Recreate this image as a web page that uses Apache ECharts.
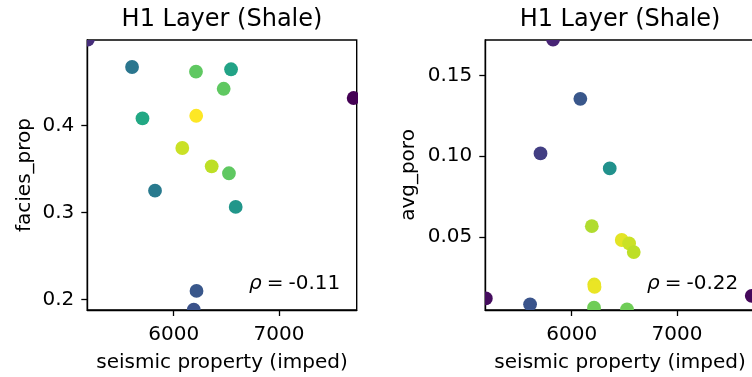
<!DOCTYPE html>
<html>
<head>
<meta charset="utf-8">
<script src="https://cdn.jsdelivr.net/npm/echarts@6/dist/echarts.min.js"></script>
<style>
  html, body { margin: 0; padding: 0; background: #fff; }
  #chart { width: 752px; height: 377px; }
</style>
</head>
<body>
<div id="chart"></div>
<script>
// Shared seismic impedance for every well in the H1 (shale) layer
const seismicImped = [5185, 5605, 5704, 5823, 6082, 6191, 6212, 6214, 6217, 6361, 6475, 6525, 6545, 6589, 7709];

// Facies proportion per well and its colour value (0..1 on viridis)
const faciesProp = [0.4985, 0.467, 0.408, 0.325, 0.374, 0.1885, 0.4616, 0.411, 0.2099, 0.353, 0.442, 0.345, 0.4644, 0.3064, 0.4314];
const faciesColour = [0.13, 0.39, 0.6, 0.41, 0.92, 0.25, 0.75, 1.0, 0.27, 0.9, 0.75, 0.75, 0.58, 0.52, 0.0];

// Average porosity per well and its colour value
const avgPoro = [0.0118, 0.0081, 0.1017, 0.1722, 0.1355, 0.0566, 0.006, 0.0204, 0.0189, 0.0924, 0.048, 0.005, 0.0459, 0.0405, 0.0134];
const poroColour = [0.03, 0.26, 0.18, 0.1, 0.27, 0.88, 0.78, 0.96, 0.97, 0.5, 0.96, 0.78, 0.92, 0.9, 0.02];

// Tick labels and titles
const xTicks = [6000, 7000];
const faciesTicks = [0.2, 0.3, 0.4];
const poroTicks = [0.05, 0.10, 0.15];
const panelTitle = 'H1 Layer (Shale)';
const xName = 'seismic property (imped)';
const yNames = ['facies_prop', 'avg_poro'];
const rhoValues = ['-0.11', '-0.22'];

const viridis = ['#440154','#482475','#414487','#355f8d','#2a788e','#21918c','#22a884','#44bf70','#7ad151','#bddf26','#fde725'];

const FONT = 'DejaVu Sans';
const grids = [
  { left: 87.3, top: 40, width: 269.4, height: 270 },
  { left: 485.3, top: 40, width: 269.5, height: 270 }
];
const xRange = [5180, 7738];
const yRanges = [[0.188, 0.498], [0.0046, 0.172]];
const yTickSets = [faciesTicks, poroTicks];
const yDigits = [1, 2];
const yNameGaps = [53, 67];
const MARKER_R = 6.9;

const chart = echarts.init(document.getElementById('chart'), null, { renderer: 'canvas' });

const axisText = { color: '#000', fontFamily: FONT, fontSize: 20 };

// Filled dots, clipped to the plotting area like the axes box
function dot(params, api) {
  const p = api.coord([api.value(0), api.value(1)]);
  return {
    type: 'circle',
    shape: { cx: p[0], cy: p[1], r: MARKER_R },
    style: { fill: api.visual('color') }
  };
}

const option = {
  animation: false,
  backgroundColor: '#fff',
  grid: grids.map(g => Object.assign({
    show: true, borderColor: '#000', borderWidth: 1.4, backgroundColor: 'transparent',
    containLabel: false, outerBoundsMode: 'none'
  }, g)),
  xAxis: grids.map((g, i) => ({
    type: 'value', gridIndex: i, min: xRange[0], max: xRange[1],
    name: xName, nameLocation: 'middle', nameGap: 43,
    nameTextStyle: axisText,
    axisLine: { show: true, lineStyle: { color: '#000', width: 1.4 } },
    axisTick: { show: true, length: 6, lineStyle: { color: '#000', width: 1.3 }, customValues: xTicks },
    axisLabel: Object.assign({ margin: 15, customValues: xTicks, formatter: v => String(Math.round(v)) }, axisText),
    splitLine: { show: false }
  })),
  yAxis: grids.map((g, i) => ({
    type: 'value', gridIndex: i, min: yRanges[i][0], max: yRanges[i][1],
    name: yNames[i], nameLocation: 'middle', nameGap: yNameGaps[i], nameRotate: 90,
    nameTextStyle: axisText,
    axisLine: { show: true, lineStyle: { color: '#000', width: 1.4 } },
    axisTick: { show: true, length: 6, lineStyle: { color: '#000', width: 1.3 }, customValues: yTickSets[i] },
    axisLabel: Object.assign({ margin: 13, customValues: yTickSets[i], formatter: v => v.toFixed(yDigits[i]) }, axisText),
    splitLine: { show: false }
  })),
  visualMap: [0, 1].map(i => ({
    type: 'continuous', show: false, seriesIndex: i, dimension: 2,
    min: 0, max: 1, inRange: { color: viridis }
  })),
  series: [
    {
      type: 'custom', xAxisIndex: 0, yAxisIndex: 0, clip: true,
      renderItem: dot, encode: { x: 0, y: 1 },
      data: seismicImped.map((x, k) => [x, faciesProp[k], faciesColour[k]])
    },
    {
      type: 'custom', xAxisIndex: 1, yAxisIndex: 1, clip: true,
      renderItem: dot, encode: { x: 0, y: 1 },
      data: seismicImped.map((x, k) => [x, avgPoro[k], poroColour[k]])
    }
  ],
  graphic: grids.flatMap((g, i) => [
    {
      type: 'text', x: g.left + g.width / 2, y: 19.5,
      style: { text: panelTitle, fill: '#000', font: '24px "' + FONT + '"', align: 'center', verticalAlign: 'middle' }
    },
    {
      type: 'text', x: g.left + g.width - 16.5, y: 284,
      style: {
        text: '{r|ρ}\u2005=\u2005' + rhoValues[i], fill: '#000', font: '20px "' + FONT + '"',
        align: 'right', verticalAlign: 'middle',
        rich: { r: { fontStyle: 'italic', fontFamily: FONT, fontSize: 20, fill: '#000' } }
      }
    }
  ])
};

chart.setOption(option);
</script>
</body>
</html>
